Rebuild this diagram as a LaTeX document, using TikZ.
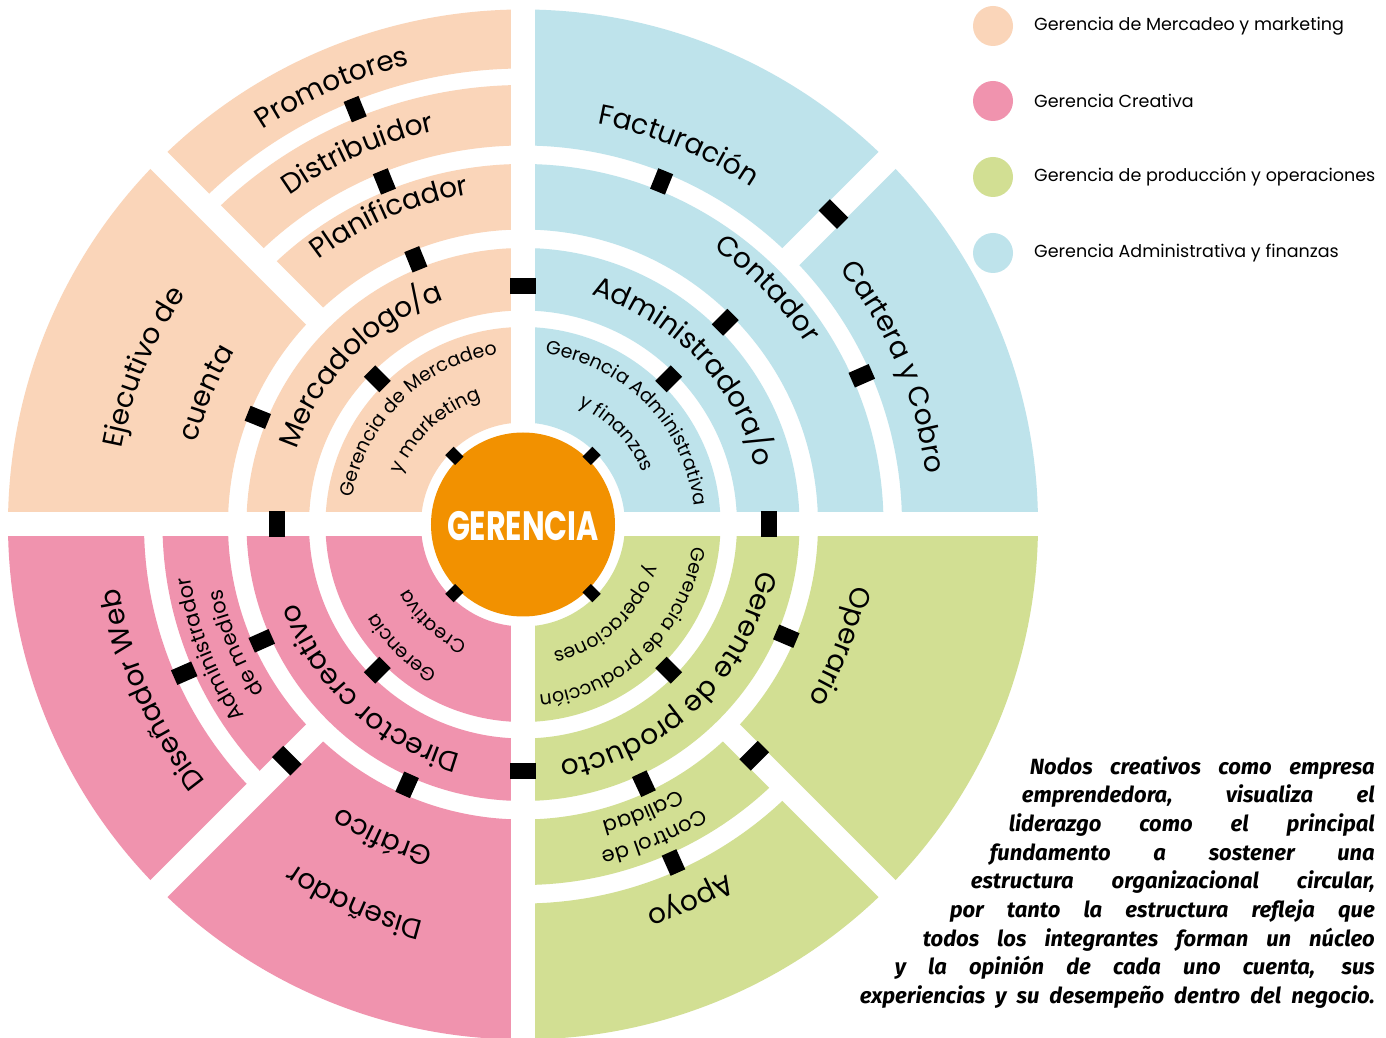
\documentclass[tikz,border=0pt]{standalone}
\usepackage{fontspec}
\usepackage{graphicx}
\setmainfont{Poppins}
\newfontfamily\parafont{Fira Sans}
\usetikzlibrary{decorations.text}
\definecolor{peach}{HTML}{FAD5B9}
\definecolor{rose}{HTML}{F093AE}
\definecolor{lime}{HTML}{D2DF93}
\definecolor{sky}{HTML}{BEE3EB}
\definecolor{core}{HTML}{F29100}

% colour, inner radius, outer radius, from angle, to angle
\newcommand{\band}[5]{%
  \fill[#1] ({#4}:#3) arc[start angle={#4},end angle={#5},radius=#3] -- ({#5}:#2) arc[start angle={#5},end angle={#4},radius=#2] -- cycle;}
% size, centre angle, baseline radius, half span, text
\newcommand{\arclabel}[5]{%
  \path[decorate,decoration={text along path,text align=center,text={|\fontsize{#1}{#1}\selectfont|#5}}]
    ({#2+#4}:#3) arc[start angle={#2+#4},end angle={#2-#4},radius=#3];}

\begin{document}
\begin{tikzpicture}[x=1pt,y=1pt]
\tikzset{gap/.style={draw=white,line width=24pt},
  rlink/.style={fill=black,inner sep=0pt,minimum width=22pt,minimum height=16pt},
  tlink/.style={fill=black,inner sep=0pt,minimum width=16pt,minimum height=26pt},
  hublink/.style={fill=black,inner sep=0pt,minimum width=14pt,minimum height=12pt},
  legend/.style={anchor=west,inner sep=0pt,font=\fontsize{17.5}{20}\selectfont},
  para/.style={anchor=base east,inner sep=0pt,font=\parafont\bfseries\itshape\fontsize{22}{28}\selectfont}}
\fill[white] (-523,-513.5) rectangle (863,524.5);
\useasboundingbox (-523,-513.5) rectangle (863,524.5);
% inner rings, one per quadrant
\foreach \c/\a in {sky/0,peach/90,rose/180,lime/270} {
  \band{\c}{102}{197.5}{\a}{\a+90}
  \band{\c}{214}{276.5}{\a}{\a+90}
}
% outer sectors
\band{peach}{295}{360.5}{90}{135}
\band{peach}{379}{439.5}{90}{135}
\band{peach}{456}{515}{90}{135}
\band{peach}{295}{515}{135}{180}
\band{sky}{295}{360.5}{0}{90}
\band{sky}{379}{515}{0}{90}
\band{rose}{295}{360.5}{180}{225}
\band{rose}{379}{515}{180}{225}
\band{rose}{295}{515}{225}{270}
\band{lime}{295}{360.5}{270}{315}
\band{lime}{379}{515}{270}{315}
\band{lime}{295}{515}{315}{360}
% white cuts
\draw[gap] (-530,0) -- (530,0);
\draw[gap] (0,-530) -- (0,530);
\draw[gap] (135:286) -- (135:530);
\draw[gap] (45:370) -- (45:530);
\draw[gap] (225:286) -- (225:530);
\draw[gap] (315:286) -- (315:530);
% hub
\fill[core] (0,0) circle[radius=92];
\node[text=white,inner sep=0pt,font=\bfseries\fontsize{41}{41}\selectfont] (hub) at (0,-1.5) {\scalebox{0.735}[1]{GERENCIA}};
% black links
\foreach \a in {45,135,225,315}
  \node[hublink,rotate=\a] at (\a:97) {};
\foreach \a/\r in {135/206,158/286,112/286,112/370,112/448,45/206,45/286,23.7/370,68/370,225/206,246/285,204/286,203.7/370,315/206,337/286,295/286,294/370}
  \node[rlink,rotate=\a] at (\a:\r) {};
\foreach \a/\r in {90/238,180/246,270/246,0/246,45/439,225/334,315/327}
  \node[tlink,rotate=\a] at (\a:\r) {};
% mercadeo
\arclabel{28}{113.6}{473.5}{40}{Promotores}
\arclabel{28}{114}{403.5}{40}{Distribuidor}
\arclabel{28}{113.5}{334.5}{40}{Planificador}
\arclabel{28}{135.5}{238.5}{60}{Mercadologo/a}
\arclabel{28}{157.5}{408.5}{40}{Ejecutivo de}
\arclabel{28}{157.5}{336.5}{40}{cuenta}
\arclabel{19}{134.8}{172}{70}{Gerencia de Mercadeo}
\arclabel{19}{133}{132}{70}{y marketing}
% administrativa
\arclabel{28}{67.7}{407.5}{40}{Facturación}
\arclabel{28}{44}{335.5}{40}{Contador}
\arclabel{28}{23}{406.5}{40}{Cartera y Cobro}
\arclabel{28}{43.6}{239.5}{60}{Administradora/o}
\arclabel{19}{44.3}{172}{70}{Gerencia Administrativa}
\arclabel{19}{44.3}{131}{70}{y finanzas}
% creativa
\arclabel{28}{204}{408.5}{40}{Diseñador Web}
\arclabel{21}{201.7}{337}{40}{Administrador}
\arclabel{21}{202.5}{308}{40}{de medios}
\arclabel{28}{227}{238.5}{60}{Director creativo}
\arclabel{19}{225.4}{171}{70}{Gerencia}
\arclabel{19}{227}{131}{70}{Creativa}
\arclabel{28}{246}{409.5}{40}{Diseñador}
\arclabel{28}{245.8}{336.5}{40}{Gráfico}
% produccion
\arclabel{28}{339}{334.5}{40}{Operario}
\arclabel{28}{314}{239.5}{60}{Gerente de producto}
\arclabel{19}{314}{171}{70}{Gerencia de producción}
\arclabel{19}{312.7}{131}{70}{y operaciones}
\arclabel{21}{292.8}{336}{40}{Control de}
\arclabel{21}{292.7}{307}{40}{Calidad}
\arclabel{28}{294}{405.5}{40}{Apoyo}
% legend
\foreach \y/\c/\t [count=\i] in {498.5/peach/Gerencia de Mercadeo y marketing,423.5/rose/Gerencia Creativa,347.5/lime/Gerencia de producción y operaciones,271.5/sky/Gerencia Administrativa y finanzas} {
  \fill[\c] (470,\y) circle[radius=20];
  \node[legend] (key\i) at (511,\y) {\t};
}
% text block
\foreach \w/\y/\t [count=\i] in {345/-249.5/Nodos creativos como empresa,
  353/-278.2/{emprendedora, visualiza el},
  366/-306.9/liderazgo como el principal,
  385/-335.6/fundamento a sostener una,
  404/-364.3/{estructura organizacional circular,},
  425/-393/por tanto la estructura refleja que,
  452/-421.7/todos los integrantes forman un núcleo,
  480/-450.4/{y la opinión de cada uno cuenta, sus},
  515/-479.1/experiencias y su desempeño dentro del negocio.}
  \node[para] (line\i) at (852,\y) {\makebox[\w pt][s]{\t}};
\end{tikzpicture}
\end{document}
